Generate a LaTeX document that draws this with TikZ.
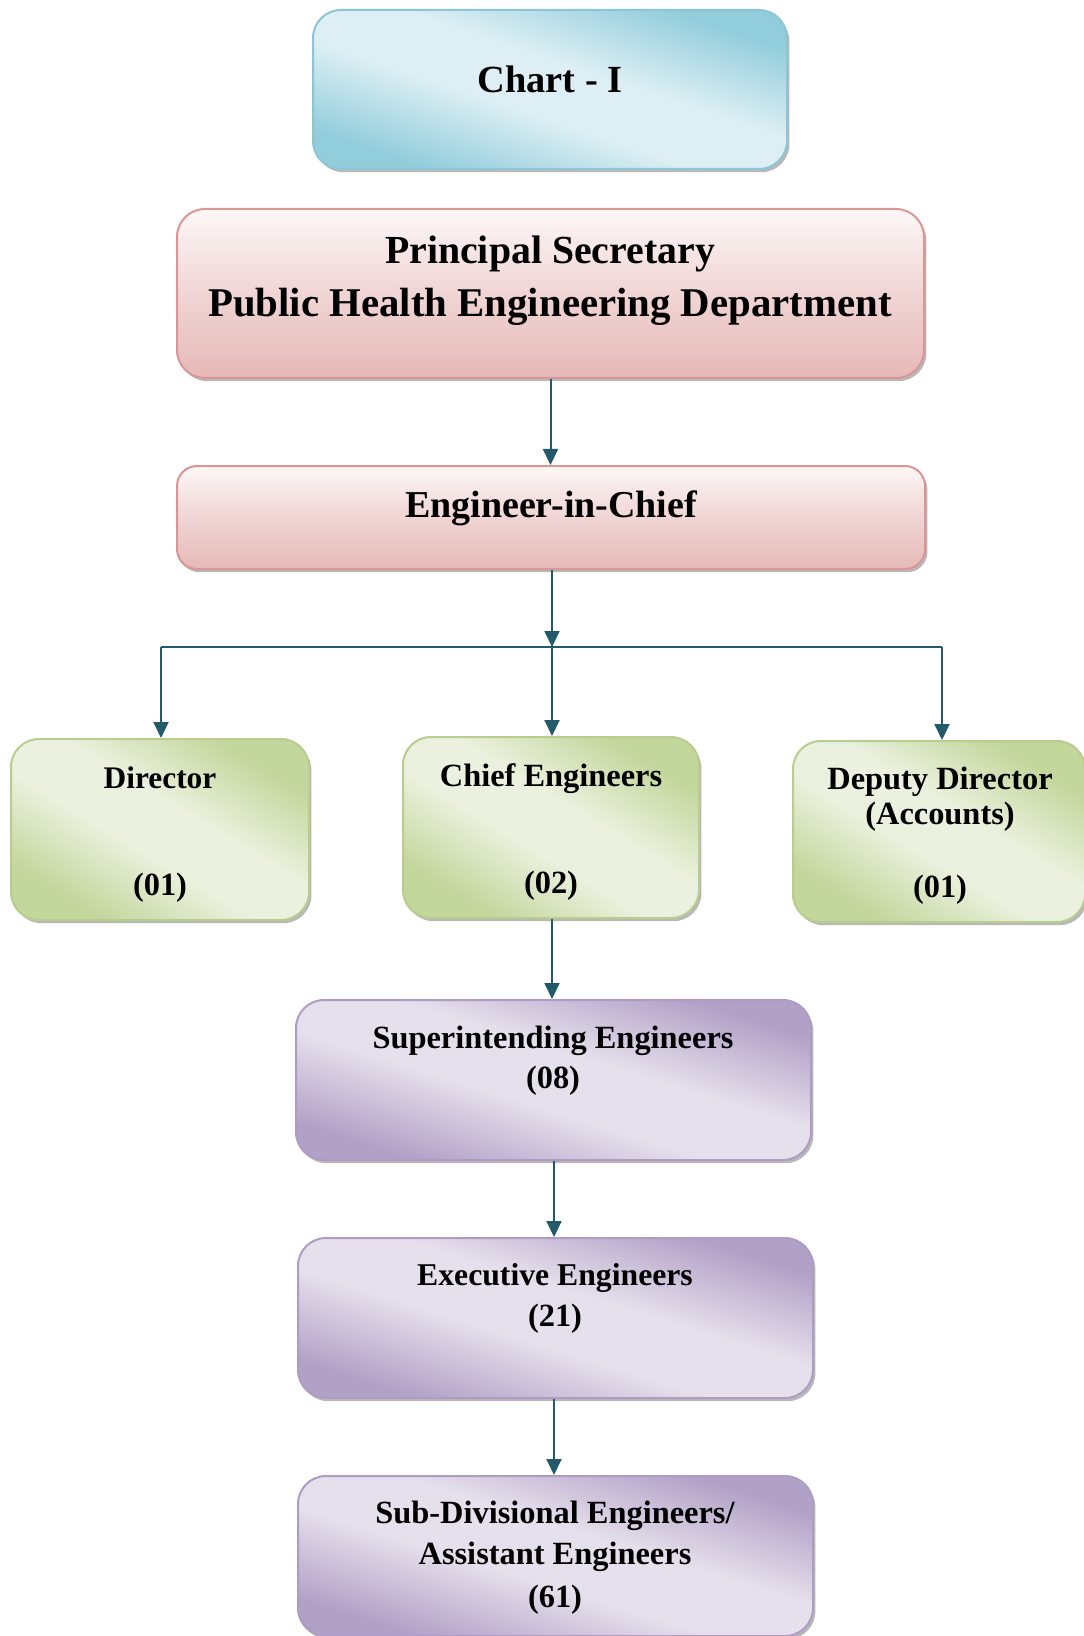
\documentclass[tikz,border=0pt]{standalone}
\usepackage{fontspec}
\setmainfont{Liberation Serif}
\usetikzlibrary{shadows,arrows.meta}
\definecolor{blueD}{HTML}{92CDDC}
\definecolor{blueL}{HTML}{DDEFF4}
\definecolor{blueE}{HTML}{8CC5D5}
\definecolor{redT}{HTML}{FDF7F7}
\definecolor{redB}{HTML}{E6B9B8}
\definecolor{redE}{HTML}{D99694}
\definecolor{grnD}{HTML}{C3D69B}
\definecolor{grnL}{HTML}{EBF1DE}
\definecolor{grnE}{HTML}{B8CD8E}
\definecolor{purD}{HTML}{B2A1C7}
\definecolor{purL}{HTML}{E6E0EC}
\definecolor{purE}{HTML}{AE9CC4}
\definecolor{arrC}{HTML}{235A69}
\pgfdeclareverticalshading{blueSh}{100bp}{color(0bp)=(blueD); color(26bp)=(blueD); color(44bp)=(blueL); color(56bp)=(blueL); color(74bp)=(blueD); color(100bp)=(blueD)}
\pgfdeclareverticalshading{grnSh}{100bp}{color(0bp)=(grnD); color(26bp)=(grnD); color(44bp)=(grnL); color(56bp)=(grnL); color(74bp)=(grnD); color(100bp)=(grnD)}
\pgfdeclareverticalshading{purSh}{100bp}{color(0bp)=(purD); color(26bp)=(purD); color(44bp)=(purL); color(56bp)=(purL); color(74bp)=(purD); color(100bp)=(purD)}
\tikzset{
 box/.style={draw, line width=1pt, rounded corners=14pt, inner sep=0pt,
   drop shadow={shadow xshift=1.2pt,shadow yshift=-1.6pt,opacity=.5,fill=black!55}},
 bluebox/.style={box, draw=blueE, shade, shading=blueSh, shading angle=-18.5},
 redbox/.style={box, draw=redE, top color=redT, bottom color=redB, middle color=redT!45!redB},
 grnbox/.style={box, draw=grnE, shade, shading=grnSh, shading angle=-31},
 purbox/.style={box, draw=purE, shade, shading=purSh, shading angle=-17.3},
 big/.style={font=\fontsize{#1}{24}\selectfont\bfseries, inner sep=0pt, anchor=base},
 big/.default=20.4,
 small/.style={font=\fontsize{#1}{19}\selectfont\bfseries, inner sep=0pt, anchor=base},
 small/.default=16.2,
 conn/.style={draw=arrC, line width=1pt, -{Triangle[width=7.5pt,length=8pt]}},
 plainline/.style={draw=arrC, line width=1pt}
}
\begin{document}
\begin{tikzpicture}[x=0.5pt,y=-0.5pt]
\useasboundingbox (0,0) rectangle (1083,1636);
\fill[white] (0,0) rectangle (1083,1636);
% boxes
\node[bluebox, minimum width=237pt, minimum height=79.5pt] (chart) at (550,89.5) {};
\node[redbox, minimum width=373.5pt, minimum height=84.5pt] (prin) at (550.5,293.5) {};
\node[redbox, minimum width=374pt, minimum height=51.5pt, rounded corners=10pt] (eic) at (551,517.5) {};
\node[grnbox, minimum width=149pt, minimum height=90.5pt] (dir) at (160,829.5) {};
\node[grnbox, minimum width=148pt, minimum height=90.5pt] (chief) at (551,827.5) {};
\node[grnbox, minimum width=146pt, minimum height=90.5pt] (dep) at (939,831.5) {};
\node[purbox, minimum width=257.5pt, minimum height=80pt] (sup) at (553.5,1080) {};
\node[purbox, minimum width=257.5pt, minimum height=80pt] (exe) at (555.5,1318) {};
\node[purbox, minimum width=257.5pt, minimum height=80pt] (sub) at (555.5,1556) {};
% connectors
\coordinate (jl) at (161,647);
\coordinate (jm) at (552,647);
\coordinate (jr) at (942,647);
\draw[conn] (prin.south) -- (prin.south |- eic.north);
\draw[conn] (eic.south -| jm) -- (jm);
\draw[plainline] (jl) -- (jr);
\draw[conn] (jl) -- (jl |- dir.north);
\draw[conn] (jm) -- (jm |- chief.north);
\draw[conn] (jr) -- (jr |- dep.north);
\draw[conn] (chief.south -| jm) -- (jm |- sup.north);
\draw[conn] (554,0 |- sup.south) -- (554,0 |- exe.north);
\draw[conn] (554,0 |- exe.south) -- (554,0 |- sub.north);
% texts
\node[big=19.2] (t1) at (550,93) {Chart - I};
\node[big=19.9] (t2) at (550,264) {Principal Secretary};
\node[big=20.4] (t3) at (550,317) {Public Health Engineering Department};
\node[big=19.0] (t4) at (551,517) {Engineer-in-Chief};
\node[small=15.7] (t5) at (160,788) {Director};
\node[small] (t6) at (160,895) {(01)};
\node[small] (t7) at (551,786) {Chief Engineers};
\node[small] (t8) at (551,893) {(02)};
\node[small] (t9) at (940,789) {Deputy Director};
\node[small] (t10) at (940,824) {(Accounts)};
\node[small] (t11) at (940,897) {(01)};
\node[small] (t12) at (553,1048) {Superintending Engineers};
\node[small] (t13) at (553,1088) {(08)};
\node[small=15.85] (t14) at (555,1285) {Executive Engineers};
\node[small] (t15) at (555,1326) {(21)};
\node[small] (t16) at (555,1523) {Sub-Divisional Engineers/};
\node[small] (t17) at (555,1564) {Assistant Engineers};
\node[small] (t18) at (555,1607) {(61)};
\end{tikzpicture}
\end{document}
